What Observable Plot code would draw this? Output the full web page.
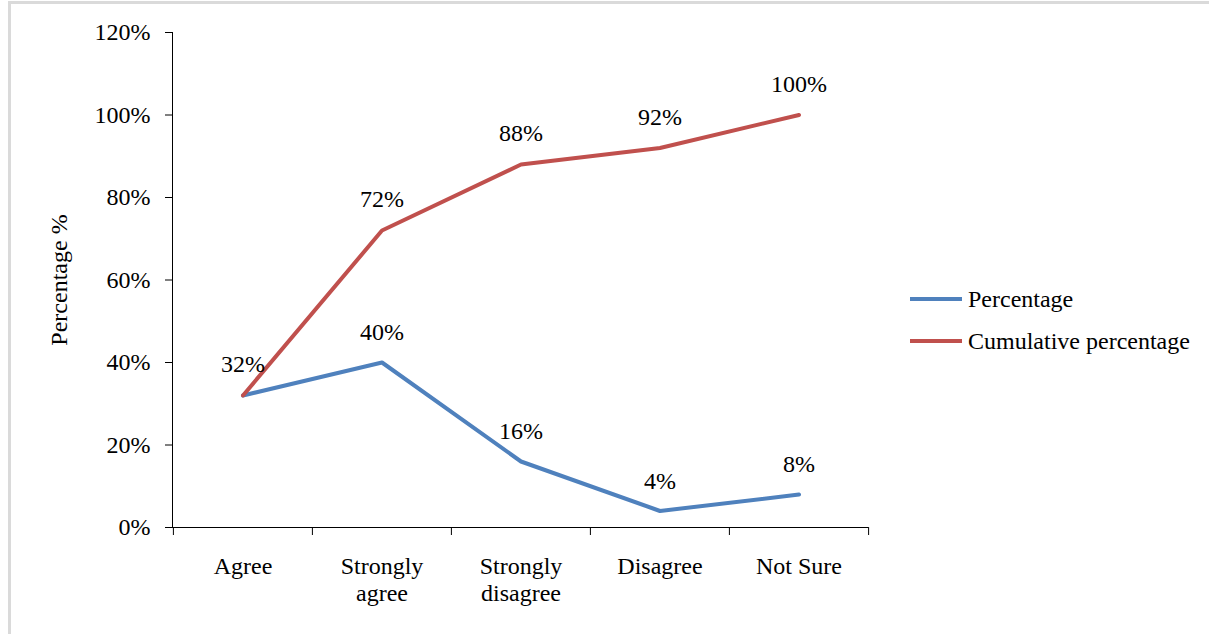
<!DOCTYPE html>
<html>
<head>
<meta charset="utf-8">
<script src="https://cdn.jsdelivr.net/npm/d3@7"></script>
<script src="https://cdn.jsdelivr.net/npm/@observablehq/plot@0.6"></script>
<style>
  html, body { margin: 0; padding: 0; background: #fff; }
  #wrap { position: relative; width: 1209px; height: 634px; overflow: hidden;
          font-family: "Liberation Serif", "Times New Roman", serif; color: #000; }
  #chart { position: absolute; left: 0; top: 0; }
  #edge { position: absolute; left: 8px; top: 1px; right: -10px; bottom: -10px;
          border-left: 3px solid #dadada; border-top: 3px solid #dadada; pointer-events: none; }
  #legend { position: absolute; left: 910px; top: 278px; font-size: 24px; }
  .item { display: flex; align-items: center; height: 42px; white-space: nowrap; }
  .swatch { width: 52px; height: 4px; margin-right: 6px; }
</style>
</head>
<body>
<div id="wrap">
  <div id="chart"></div>
  <div id="legend"></div>
  <div id="edge"></div>
</div>
<script>
// Survey responses and their running total
const categories = ["Agree", "Strongly\nagree", "Strongly\ndisagree", "Disagree", "Not Sure"];
const percentage = [32, 40, 16, 4, 8];
const cumulative = [32, 72, 88, 92, 100];
const yTicks = [0, 20, 40, 60, 80, 100, 120];
const seriesNames = ["Percentage", "Cumulative percentage"];
const seriesColors = ["#4F81BD", "#C0504D"];

const W = 1209, H = 634;
const mL = 172, mR = 341, mT = 32, mB = 107;
const band = (W - mL - mR) / categories.length;

const toRows = (values, name) => categories.map((c, i) => ({category: c, value: values[i], series: name}));
const pctRows = toRows(percentage, seriesNames[0]);
const cumRows = toRows(cumulative, seriesNames[1]);

const font = 24;

const chart = Plot.plot({
  width: W,
  height: H,
  marginLeft: mL,
  marginRight: mR,
  marginTop: mT,
  marginBottom: mB,
  style: {fontFamily: "'Liberation Serif', 'Times New Roman', serif", fontSize: font + "px", color: "#000", background: "transparent"},
  x: {type: "band", domain: categories, padding: 0},
  y: {domain: [0, 120]},
  marks: [
    Plot.frame({anchor: "left", stroke: "#000"}),
    Plot.ruleY([0], {stroke: "#000"}),
    Plot.axisY({
      ticks: yTicks, tickSize: 7, tickPadding: 15, tickFormat: d => d + "%",
      fontSize: font, label: "Percentage %", labelAnchor: "center", labelOffset: 123, labelArrow: "none"
    }),
    // category names, centred in each band
    Plot.axisX({tickSize: 0, tickPadding: 28, fontSize: font, lineHeight: 1.1, label: null}),
    // tick marks sit on the band boundaries
    Plot.axisX({tickSize: 8, dx: -band / 2, tickFormat: () => "", label: null}),
    Plot.axisX([categories[categories.length - 1]], {tickSize: 8, dx: band / 2, tickFormat: () => "", label: null}),
    Plot.lineY(pctRows, {x: "category", y: "value", stroke: seriesColors[0], strokeWidth: 4}),
    Plot.lineY(cumRows, {x: "category", y: "value", stroke: seriesColors[1], strokeWidth: 4}),
    Plot.text(cumRows, {x: "category", y: "value", text: d => d.value + "%", dy: -31, fontSize: font, fill: "#000"}),
    Plot.text(pctRows.slice(1), {x: "category", y: "value", text: d => d.value + "%", dy: -30, fontSize: font, fill: "#000"})
  ]
});
document.getElementById("chart").appendChild(chart);

const legend = document.getElementById("legend");
seriesNames.forEach((name, i) => {
  const item = document.createElement("div");
  item.className = "item";
  const sw = document.createElement("span");
  sw.className = "swatch";
  sw.style.background = seriesColors[i];
  const label = document.createElement("span");
  label.textContent = name;
  item.appendChild(sw);
  item.appendChild(label);
  legend.appendChild(item);
});
</script>
</body>
</html>
